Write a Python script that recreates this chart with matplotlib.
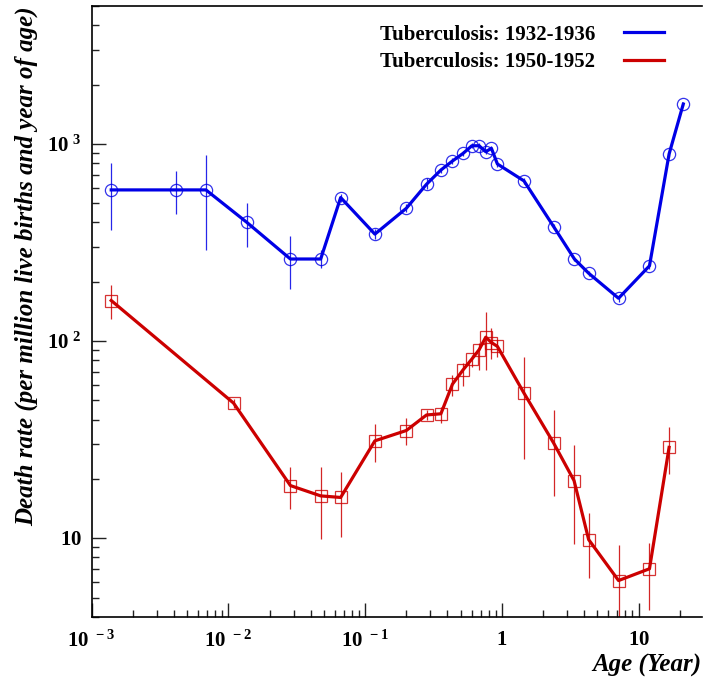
import numpy as np
import matplotlib
matplotlib.use("Agg")
import matplotlib.pyplot as plt
from matplotlib.ticker import LogLocator, FuncFormatter, NullFormatter
from matplotlib.lines import Line2D

plt.rcParams['font.family'] = ['Liberation Serif', 'DejaVu Serif']
plt.rcParams['mathtext.fontset'] = 'custom'
plt.rcParams['mathtext.rm'] = 'Liberation Serif'
plt.rcParams['mathtext.bf'] = 'Liberation Serif:bold'

# age (years) and death rate, 1932-1936
age_a = [1.39e-3, 4.14e-3, 6.85e-3, 0.0136, 0.0284, 0.0473, 0.0662, 0.1178, 0.200,
         0.281, 0.358, 0.435, 0.521, 0.603, 0.681, 0.762, 0.838, 0.927,
         1.45, 2.39, 3.39, 4.31, 7.13, 12.0, 16.7, 21.2]
rate_a = [585, 585, 585, 401, 261, 261, 535, 349, 472,
          625, 738, 820, 897, 980, 980, 914, 951, 792,
          650, 381, 261, 221, 165, 241, 890, 1595]
lo_a = [367, 440, 290, 302, 183, 235, 510, 330, 450,
        590, 715, 795, 870, 950, 950, 885, 920, 768,
        630, 370, 254, 215, 158, 233, 860, 1560]
hi_a = [798, 730, 880, 505, 342, 290, 560, 370, 495,
        670, 760, 845, 925, 1010, 1010, 945, 980, 815,
        670, 392, 268, 227, 172, 249, 920, 1630]

# age (years) and death rate, 1950-1952
age_b = [1.39e-3, 0.0109, 0.0284, 0.0473, 0.0662, 0.1178, 0.200, 0.281, 0.358,
         0.435, 0.521, 0.603, 0.681, 0.762, 0.838, 0.927,
         1.45, 2.39, 3.37, 4.31, 7.13, 12.0, 16.7]
rate_b = [160.7, 48.5, 18.5, 16.4, 16.1, 31.2, 35.2, 42.2, 42.8,
          60.5, 71.6, 81.1, 90.4, 104.7, 98.4, 94.0,
          54.5, 30.4, 19.6, 9.84, 6.1, 7.0, 28.9]
lo_b = [130, 46, 14.0, 9.9, 10.2, 24.4, 29.7, 40, 38.5,
        52.5, 59, 74, 71, 71, 81, 83,
        25.3, 16.4, 9.4, 6.3, 3.5, 4.3, 21.1]
hi_b = [192, 51, 23.0, 23.0, 21.6, 37.8, 40.8, 44.5, 46.5,
        67.5, 77.5, 85, 98, 140, 116, 101,
        83.5, 44.5, 29.8, 13.4, 9.2, 9.5, 36.5]

labels = ['Tuberculosis: 1932-1936', 'Tuberculosis: 1950-1952']
blue = '#0000e6'
red = '#cc0000'

fig = plt.figure(figsize=(7.03, 6.79), dpi=100)
ax = fig.add_axes([0.1304, 0.0918, 0.868, 0.899])

for age, rate, lo, hi, col, mk in [(age_a, rate_a, lo_a, hi_a, blue, 'o'),
                                   (age_b, rate_b, lo_b, hi_b, red, 's')]:
    rate = np.array(rate)
    yerr = [rate - np.array(lo), np.array(hi) - rate]
    ax.errorbar(age, rate, yerr=yerr, fmt='none', ecolor=col, elinewidth=0.9,
                alpha=0.85, zorder=2)
    ax.plot(age, rate, '-', color=col, lw=2.3, zorder=3)
    ax.plot(age, rate, mk, mfc='none', mec=col, ms=8.8, mew=0.9, alpha=0.8, zorder=4)

ax.set_xscale('log')
ax.set_yscale('log')
ax.set_xlim(1e-3, 29)
ax.set_ylim(4.0, 5000)


def pow10(v, pos):
    e = int(round(np.log10(v)))
    if e == 0:
        return r'$\mathbf{1}$'
    if e == 1:
        return r'$\mathbf{10}$'
    return r'$\mathbf{10^{\ %d}}$' % e


for axis in (ax.xaxis, ax.yaxis):
    axis.set_major_locator(LogLocator(base=10))
    axis.set_minor_locator(LogLocator(base=10, subs=np.arange(2, 10)))
    axis.set_major_formatter(FuncFormatter(pow10))
    axis.set_minor_formatter(NullFormatter())

ax.tick_params(which='both', direction='in', top=False, right=False,
               labelsize=15, width=1.0, color='#222222')
ax.tick_params(which='major', length=10, pad=7)
ax.tick_params(which='minor', length=5)
ax.tick_params(axis='x', which='major', pad=10)
for s in ax.spines.values():
    s.set_linewidth(1.2)
ax.spines['right'].set_visible(False)

ax.set_ylabel('Death rate (per million live births and year of age)',
              fontsize=18, fontweight='bold', style='italic', loc='top')
ax.yaxis.set_label_coords(-0.087, 1.0)
ax.set_xlabel('Age (Year)', fontsize=18, fontweight='bold', style='italic', loc='right')
ax.xaxis.set_label_coords(1.0, -0.061)

handles = [Line2D([], [], color=blue, lw=2.3), Line2D([], [], color=red, lw=2.3)]
ax.legend(handles, labels, loc='upper right', bbox_to_anchor=(0.938, 0.970),
          frameon=False, markerfirst=False, prop={'weight': 'bold', 'size': 15},
          handlelength=1.9, handletextpad=1.4, labelspacing=0.35,
          borderpad=0, borderaxespad=0)

fig.savefig('out.png', dpi=100)
